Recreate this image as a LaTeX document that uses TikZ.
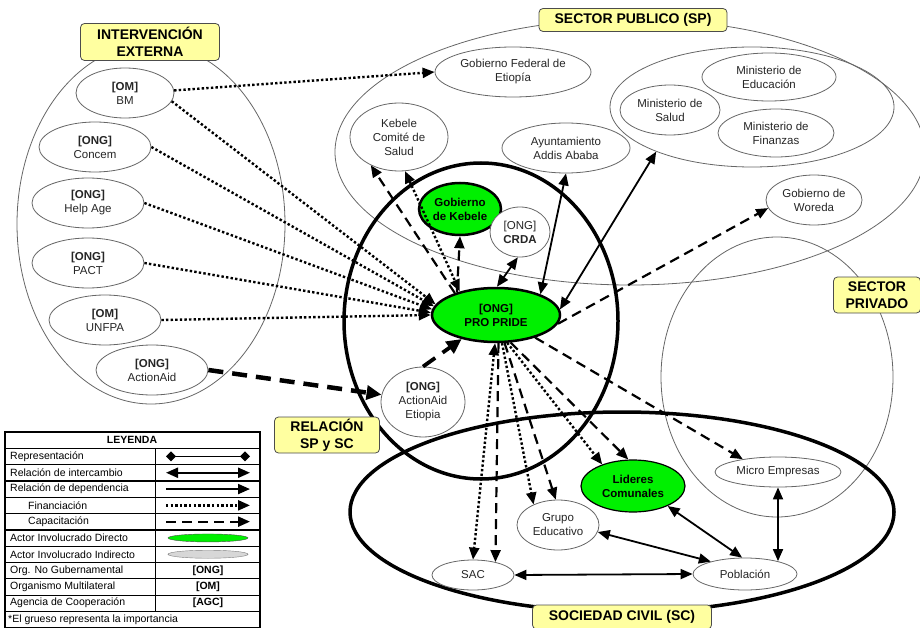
\documentclass[tikz,border=0pt]{standalone}
\usepackage{fontspec}
\setmainfont{Liberation Sans}
\usetikzlibrary{shapes,arrows,arrows.meta}
\definecolor{actorgreen}{RGB}{0,240,0}
\definecolor{labelyellow}{RGB}{255,255,160}
\definecolor{indirectgray}{RGB}{215,215,215}

\begin{document}
\begin{tikzpicture}[x=1pt, y=-1pt, >={Triangle[length=12pt,width=10pt]},
    font=\fontsize{11.5}{14}\selectfont,
    actor/.style ={ellipse, draw=black!60, line width=0.8pt, fill=white,
      align=center, inner sep=0pt, text=black!85},
    actor_direct/.style ={ellipse, draw=black, line width=2.5pt, fill=actorgreen,
      align=center, inner sep=0pt, font=\fontsize{11.5}{14}\selectfont\bfseries},
    region/.style ={ellipse, draw=black!60, line width=0.8pt, inner sep=0pt},
    region_thick/.style ={ellipse, draw=black, line width=3.5pt, inner sep=0pt},
    sector_label/.style ={rectangle, rounded corners=4pt, draw=black!70, line width=0.8pt,
      fill=labelyellow, align=center, inner sep=2pt,
      font=\fontsize{14}{16.5}\selectfont\bfseries},
    leg_text/.style ={anchor=west, inner sep=0pt, font=\fontsize{10.5}{12}\selectfont},
    leg_code/.style ={inner sep=0pt, font=\fontsize{10.5}{12}\selectfont\bfseries},
    line_exchange/.style ={draw, line width=1.8pt, <->},
    line_finance/.style ={draw, line width=2.4pt, dash pattern=on 2.4pt off 2.2pt, ->},
    line_train/.style ={draw, line width=2.2pt, dash pattern=on 10pt off 6pt, ->},
    line_train_strong/.style ={draw, line width=4.5pt, dash pattern=on 15pt off 9pt,
      -{Triangle[length=15pt,width=14pt]}}]
    \useasboundingbox (0,0) rectangle (920,628);
    % sectors
    \node [region, minimum width=268pt, minimum height=360pt] (ext_region) at (151,224) {};
    \node [region, minimum width=590pt, minimum height=266pt] (sp_region) at (630,152) {};
    \node [region, minimum width=284pt, minimum height=120pt] (ministerios) at (752,107) {};
    \node [region, minimum width=232pt, minimum height=280pt] (priv_region) at (777,377) {};
    \node [region_thick, minimum width=274pt, minimum height=316pt] (rel_region) at (481,321) {};
    \node [region_thick, minimum width=544pt, minimum height=200pt] (sc_region) at (622,512) {};

    % intervencion externa
    \node [actor, minimum width=98pt, minimum height=50pt] (bm) at (125,93) {\textbf{[OM]}\\BM};
    \node [actor, minimum width=112pt, minimum height=50pt] (concem) at (95,147) {\textbf{[ONG]}\\Concem};
    \node [actor, minimum width=112pt, minimum height=50pt] (help_age) at (88,203) {\textbf{[ONG]}\\Help Age};
    \node [actor, minimum width=112pt, minimum height=50pt] (pact) at (88,263) {\textbf{[ONG]}\\PACT};
    \node [actor, minimum width=112pt, minimum height=50pt] (unfpa) at (105,320) {\textbf{[OM]}\\UNFPA};
    \node [actor, minimum width=112pt, minimum height=50pt] (actionaid) at (152,370) {\textbf{[ONG]}\\ActionAid};

    % sector publico
    \node [actor, minimum width=156pt, minimum height=50pt] (gob_federal) at (513,72) {Gobierno Federal de\\Etiopía};
    \node [actor, minimum width=98pt, minimum height=68pt] (kebele_salud) at (399,137) {Kebele\\Comité de\\Salud};
    \node [actor, minimum width=128pt, minimum height=50pt] (ayuntamiento) at (566,148) {Ayuntamiento\\Addis Ababa};
    \node [actor, minimum width=100pt, minimum height=50pt] (min_salud) at (670,110) {Ministerio de\\Salud};
    \node [actor, minimum width=134pt, minimum height=48pt] (min_educacion) at (769,77) {Ministerio de\\Educación};
    \node [actor, minimum width=116pt, minimum height=48pt] (min_finanzas) at (776,133) {Ministerio de\\Finanzas};
    \node [actor, minimum width=96pt, minimum height=50pt] (gob_woreda) at (814,200) {Gobierno de\\Woreda};

    % relacion SP y SC
    \node [actor_direct, minimum width=82pt, minimum height=52pt] (gob_kebele) at (460,209) {Gobierno\\de Kebele};
    \node [actor, minimum width=60pt, minimum height=50pt] (crda) at (520,232) {[ONG]\\\textbf{CRDA}};
    \node [actor_direct, minimum width=128pt, minimum height=54pt] (pro_pride) at (496,315) {[ONG]\\PRO PRIDE};
    \node [actor, minimum width=84pt, minimum height=70pt] (actionaid_et) at (423,402) {\textbf{[ONG]}\\ActionAid\\Etiopia};

    % sociedad civil
    \node [actor_direct, line width=1.2pt, minimum width=104pt, minimum height=52pt] (lideres) at (633,486) {Lideres\\Comunales};
    \node [actor, minimum width=82pt, minimum height=50pt] (grupo) at (558,525) {Grupo\\Educativo};
    \node [actor, minimum width=82pt, minimum height=30pt] (sac) at (473,575) {SAC};
    \node [actor, minimum width=104pt, minimum height=32pt] (poblacion) at (745,574) {Población};
    \node [actor, minimum width=126pt, minimum height=30pt] (micro) at (778,472) {Micro Empresas};

    % financiacion
    \begin{scope}[every path/.style=line_finance]
      \path (bm.3) -- (gob_federal.west);
      \path (bm.-10) -- (pro_pride.170);
      \path (concem.east) -- (pro_pride.172);
      \path (help_age.east) -- (pro_pride.175);
      \path (pact.east) -- (pro_pride.178);
      \path (unfpa.east) -- (pro_pride.180);
      \path [<->] (kebele_salud.280) -- (pro_pride.147);
      \path [<->] (pro_pride.268) -- (sac.north);
      \path (pro_pride.282) -- (grupo.140);
      \path (pro_pride.292) -- (lideres.145);
    \end{scope}
    % capacitacion
    \begin{scope}[every path/.style=line_train]
      \path (pro_pride.152) -- (kebele_salud.225);
      \path (pro_pride.150) -- (gob_kebele.south);
      \path (pro_pride.-8) -- (gob_woreda.190);
      \path (pro_pride.-30) -- (micro.160);
      \path (pro_pride.275) -- (sac.30);
      \path (pro_pride.287) -- (grupo.95);
      \path (pro_pride.298) -- (lideres.100);
    \end{scope}
    \path [line_train_strong] (actionaid.east) -- (actionaid_et.170);
    \path [line_train_strong, line width=3.8pt] (actionaid_et.north) -- (pro_pride.215);
    % intercambio
    \begin{scope}[every path/.style=line_exchange]
      \path (pro_pride.88) -- (crda.265);
      \path (pro_pride.25) -- (ayuntamiento.south);
      \path (pro_pride.5) -- (ministerios.205);
      \path (sac.east) -- (poblacion.west);
      \path (grupo.-10) -- (poblacion.160);
      \path (lideres.-30) -- (poblacion.100);
      \path [shorten >=-3.5pt] (micro.south) -- (micro.south |- poblacion.north);
    \end{scope}

    % sector labels
    \node [sector_label, minimum width=139pt, minimum height=37pt] (ext_label) at (150,42) {INTERVENCIÓN\\EXTERNA};
    \node [sector_label, minimum width=188pt, minimum height=23pt] (sp_label) at (633,20) {SECTOR PUBLICO (SP)};
    \node [sector_label, minimum width=87pt, minimum height=36pt] (priv_label) at (877,295) {SECTOR\\PRIVADO};
    \node [sector_label, minimum width=105pt, minimum height=36pt] (rel_label) at (327,435) {RELACIÓN\\SP y SC};
    \node [sector_label, minimum width=179pt, minimum height=24pt] (sc_label) at (622,617) {SOCIEDAD CIVIL (SC)};

    % legend
    \fill [white] (5,432) rectangle (260,628);
    \foreach \i/\w in {1/1.6pt,2/1.6pt,3/1.6pt,4/0.7pt,5/0.7pt,6/1.6pt,7/0.7pt,8/1.6pt,9/0.7pt,10/0.7pt,11/1.6pt}
      \draw [line width=\w] (5,{432+16.3*\i}) -- (260,{432+16.3*\i});
    \draw [line width=0.8pt] (155,448.3) -- (155,611.3);
    \draw [line width=1.8pt] (5,432) rectangle (260,627.6);
    \node [leg_code] (leg_title) at (132,440.15) {LEYENDA};
    \foreach \i/\x/\txt in {1/10/Representación, 2/10/Relación de intercambio,
        3/10/Relación de dependencia, 4/28/Financiación, 5/28/Capacitación,
        6/10/Actor Involucrado Directo, 7/10/Actor Involucrado Indirecto,
        8/10/Org. No Gubernamental, 9/10/Organismo Multilateral,
        10/10/Agencia de Cooperación, 11/8/*El grueso representa la importancia}
      \node [leg_text] (leg_txt\i) at (\x,{432+16.3*(\i+0.5)}) {\txt};
    \foreach \i in {1,...,5} {
      \coordinate (leg_a\i) at (166,{432+16.3*(\i+0.5)});
      \coordinate (leg_b\i) at (250,{432+16.3*(\i+0.5)});
    }
    \draw [line width=1.6pt, {Diamond[length=10pt,width=10pt]}-{Diamond[length=10pt,width=10pt]}] (leg_a1) -- (leg_b1);
    \path [line_exchange, line width=2.2pt] (leg_a2) -- (leg_b2);
    \draw [line width=2pt, ->] (leg_a3) -- (leg_b3);
    \path [line_finance] (leg_a4) -- (leg_b4);
    \path [line_train] (leg_a5) -- (leg_b5);
    \node [ellipse, draw=black!70, fill=actorgreen, minimum width=80pt, minimum height=8pt, inner sep=0pt] (leg_direct) at (208,{432+16.3*6.5}) {};
    \node [ellipse, draw=black!50, fill=indirectgray, minimum width=80pt, minimum height=8pt, inner sep=0pt] (leg_indirect) at (208,{432+16.3*7.5}) {};
    \node [leg_code] (leg_ong) at (208,{432+16.3*8.5}) {[ONG]};
    \node [leg_code] (leg_om) at (208,{432+16.3*9.5}) {[OM]};
    \node [leg_code] (leg_agc) at (208,{432+16.3*10.5}) {[AGC]};
\end{tikzpicture}
\end{document}
